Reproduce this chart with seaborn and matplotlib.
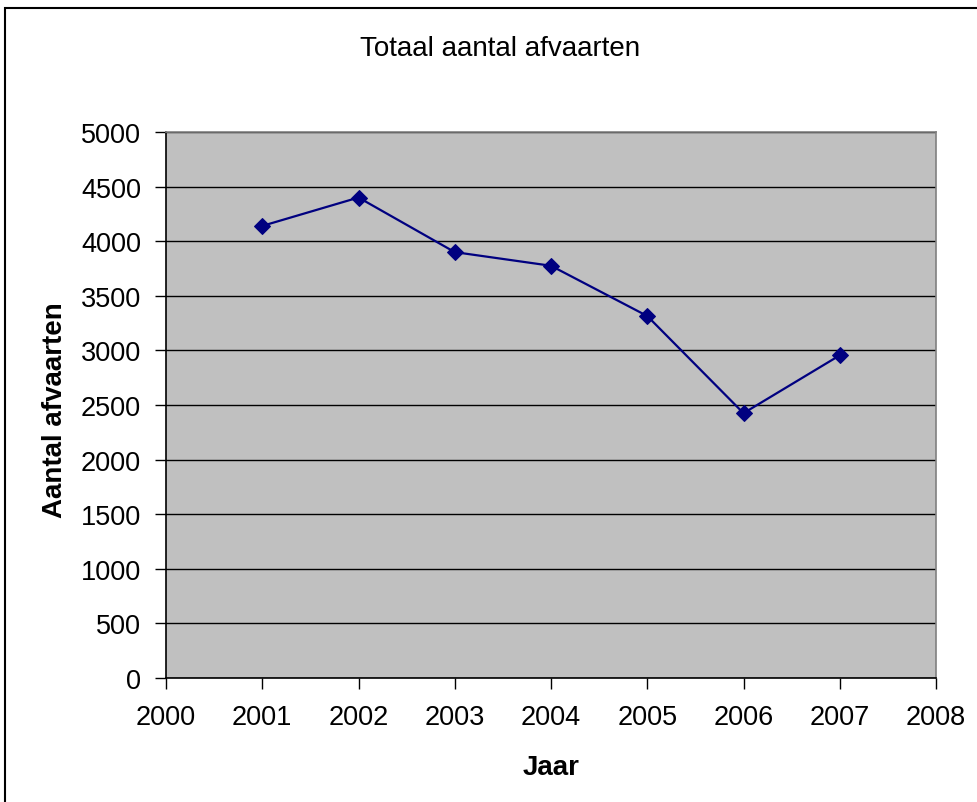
import pandas as pd
import matplotlib.pyplot as plt
import seaborn as sns
from matplotlib.patches import Rectangle

# Gegevens
jaren = [2001, 2002, 2003, 2004, 2005, 2006, 2007]
afvaarten = [4140, 4400, 3900, 3775, 3315, 2425, 2955]

df = pd.DataFrame({"Jaar": jaren, "Afvaarten": afvaarten})

sns.set_style("white")
plt.rcParams['font.family'] = ['Liberation Sans', 'DejaVu Sans']
plt.rcParams['text.color'] = 'black'
plt.rcParams['xtick.color'] = 'black'
plt.rcParams['ytick.color'] = 'black'

fig = plt.figure(figsize=(9.77, 8.03), dpi=100)
ax = fig.add_axes([166 / 977, 1 - 679 / 803, (936 - 166) / 977, (679 - 133) / 803])
ax.set_facecolor('#C0C0C0')

sns.lineplot(data=df, x="Jaar", y="Afvaarten", ax=ax, color='#000080',
             marker='D', markersize=8, markeredgecolor='#000080', linewidth=1.6)

ax.set_xlim(2000, 2008)
ax.set_ylim(0, 5000)
ax.set_xticks(range(2000, 2009))
ax.set_yticks(range(0, 5001, 500))
ax.yaxis.grid(True, color='black', linewidth=1)
ax.xaxis.grid(False)
ax.set_axisbelow(True)

for side in ['top', 'right']:
    ax.spines[side].set_color('#808080')
    ax.spines[side].set_linewidth(1.2)
for side in ['left', 'bottom']:
    ax.spines[side].set_color('black')
    ax.spines[side].set_linewidth(1.2)

ax.tick_params(axis='both', direction='out', length=8, width=1, color='black',
               labelcolor='black', labelsize=19.5, bottom=True, left=True)
ax.tick_params(axis='x', pad=11)
ax.tick_params(axis='y', pad=10)

ax.set_xlabel("")
ax.set_ylabel("")
fig.text(551 / 977, 1 - 768 / 803, "Jaar", ha='center', va='center',
         fontsize=20, fontweight='bold')
fig.text(55 / 977, 1 - 410 / 803, "Aantal afvaarten", ha='center', va='center',
         rotation=90, fontsize=20, fontweight='bold')
fig.text(500 / 977, 1 - 49 / 803, "Totaal aantal afvaarten", ha='center', va='center',
         fontsize=20)

# rand om de hele grafiek (rechts en onder vallen buiten beeld)
fig.patches.append(Rectangle((5 / 977, -0.1), 1.1, 1 - 9 / 803 + 0.1,
                             transform=fig.transFigure, fill=False,
                             edgecolor='black', linewidth=1.5))

fig.savefig("out.png", dpi=100)
